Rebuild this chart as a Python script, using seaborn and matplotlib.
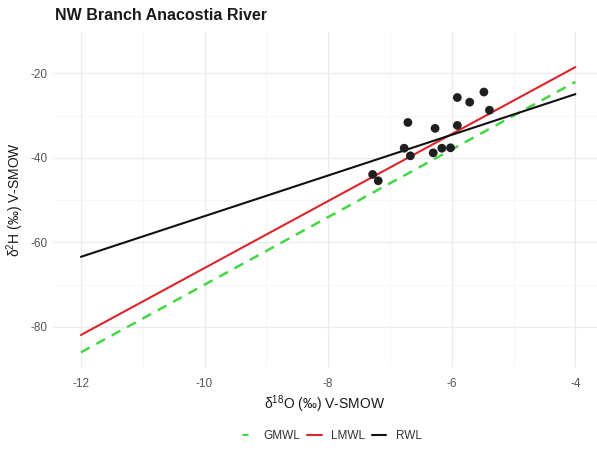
import numpy as np
import pandas as pd
import matplotlib
matplotlib.use("Agg")
import matplotlib.pyplot as plt
from matplotlib.ticker import MultipleLocator
import seaborn as sns

# Water-line endpoints (delta-18O, delta-2H)
line_names = ["GMWL", "LMWL", "RWL"]
line_x = [-12.0, -4.0]
gmwl_y = [-86.0, -22.0]
lmwl_y = [-81.9, -18.5]
rwl_y = [-63.4, -24.9]

# River samples
sample_d18o = [-7.28, -7.19, -6.77, -6.67, -6.71, -6.27, -6.30,
               -6.16, -6.02, -5.91, -5.91, -5.71, -5.48, -5.39]
sample_d2h = [-43.9, -45.4, -37.7, -39.5, -31.6, -33.0, -38.8,
              -37.7, -37.6, -25.7, -32.3, -26.8, -24.4, -28.7]

sns.set_theme(style="whitegrid")
plt.rcParams["font.family"] = ["Liberation Sans", "DejaVu Sans"]
plt.rcParams["mathtext.fontset"] = "custom"
plt.rcParams["mathtext.rm"] = "Liberation Sans"
plt.rcParams["mathtext.default"] = "regular"
plt.rcParams["axes.unicode_minus"] = False

lines = pd.DataFrame({
    "x": line_x * 3,
    "y": gmwl_y + lmwl_y + rwl_y,
    "line": [n for n in line_names for _ in line_x],
})
samples = pd.DataFrame({"d18O": sample_d18o, "d2H": sample_d2h})

palette = {"GMWL": "#45D645", "LMWL": "#D8262B", "RWL": "#111111"}

fig = plt.figure(figsize=(5.97, 4.51), dpi=100)
ax = fig.add_axes([0.089, 0.186, 0.911, 0.743])

sns.lineplot(data=lines, x="x", y="y", hue="line", style="line",
             palette=palette, hue_order=line_names, style_order=line_names,
             dashes={"GMWL": (4, 3), "LMWL": "", "RWL": ""},
             linewidth=1.5, ax=ax, legend=True)
ax.lines[0].set_linewidth(1.8)
sns.scatterplot(data=samples, x="d18O", y="d2H", color="#1f1f1f",
                s=40, edgecolor="none", ax=ax, zorder=5, legend=False)

ax.set_xlim(-12.45, -3.65)
ax.set_ylim(-89.5, -10.2)
ax.xaxis.set_major_locator(MultipleLocator(2))
ax.xaxis.set_minor_locator(MultipleLocator(1))
ax.yaxis.set_major_locator(MultipleLocator(20))
ax.yaxis.set_minor_locator(MultipleLocator(10))
ax.grid(which="major", color="#EBEBEB", linewidth=0.9)
ax.grid(which="minor", color="#F3F3F3", linewidth=0.5)
ax.set_facecolor("white")
for s in ax.spines.values():
    s.set_visible(False)
ax.tick_params(axis="both", which="both", length=0, labelsize=8.5,
               labelcolor="#555555")
ax.tick_params(axis="x", pad=8)
ax.tick_params(axis="y", pad=4)

ax.set_xlabel(r"$\delta^{18}$O (‰) V-SMOW", fontsize=10, color="#1a1a1a", labelpad=2)
ax.set_ylabel(r"$\delta^{2}$H (‰) V-SMOW", fontsize=10, color="#1a1a1a", labelpad=3)

fig.text(0.092, 0.965, "NW Branch Anacostia River", fontsize=11.5,
         fontweight="bold", color="#1a1a1a", ha="left", va="center")

leg = ax.legend(loc="center", bbox_to_anchor=(0.51, -0.205), ncol=3,
                frameon=False, fontsize=8.5, handlelength=1.25,
                columnspacing=0.55, handletextpad=0.8)
for t in leg.get_texts():
    t.set_color("#333333")
green_handle = leg.get_lines()[0]
green_handle.set_dashes((0, 1.6, 3, 6))

fig.savefig("out.png", dpi=100, facecolor="white")
